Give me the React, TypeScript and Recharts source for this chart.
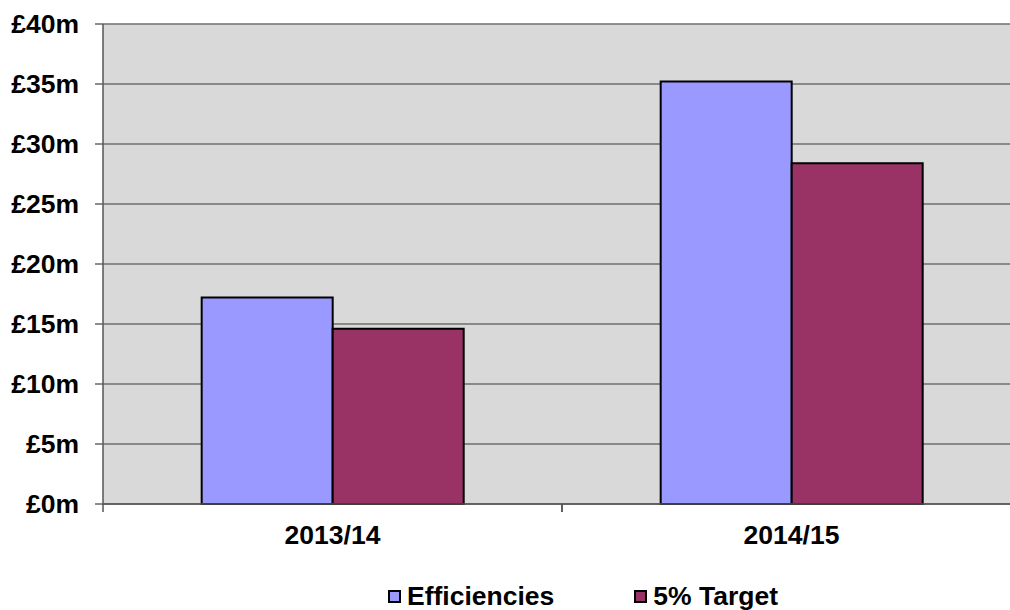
import { BarChart, Bar, XAxis, YAxis, CartesianGrid, Legend } from 'recharts';

const years = ['2013/14', '2014/15'];
const efficiencies = [17.2, 35.2];
const target = [14.6, 28.4];
const yTicks = [0, 5, 10, 15, 20, 25, 30, 35, 40];
const seriesOrder = ['efficiencies', 'target'];

const data = years.map((year, i) => ({ year, efficiencies: efficiencies[i], target: target[i] }));

const FONT = '"Liberation Sans", Arial, sans-serif';
const FONT_SIZE = 26.5;
const X_TICK_SIZE = 8;
const X_TICK_MARGIN = 13;

// category label plus the small boundary marks Excel draws between categories
function CategoryTick(props: any) {
  const { x, y, payload } = props;
  const axisY = y - X_TICK_SIZE - X_TICK_MARGIN;
  const half = payload?.offset ?? 0;
  return (
    <g>
      <line x1={x - half} x2={x - half} y1={axisY} y2={axisY + X_TICK_SIZE} stroke="#555" strokeWidth={1.5} />
      <line x1={x + half} x2={x + half} y1={axisY} y2={axisY + X_TICK_SIZE} stroke="#555" strokeWidth={1.5} />
      <text x={x} y={y} dy="0.71em" textAnchor="middle" fontFamily={FONT} fontWeight="bold" fontSize={FONT_SIZE} fill="#000">
        {payload.value}
      </text>
    </g>
  );
}

function LegendContent({ payload }: any) {
  const items = [...(payload || [])].sort(
    (a: any, b: any) => seriesOrder.indexOf(a.dataKey) - seriesOrder.indexOf(b.dataKey)
  );
  return (
    <div
      style={{
        height: 46,
        boxSizing: 'border-box',
        paddingTop: 18,
        paddingLeft: 388,
        display: 'flex',
        fontFamily: FONT,
        fontWeight: 'bold',
        fontSize: FONT_SIZE,
        lineHeight: '26px',
        color: '#000',
      }}
    >
      {items.map((p: any) => (
        <span key={p.value} style={{ display: 'flex', alignItems: 'center', marginRight: 80 }}>
          <span style={{ width: 9, height: 9, border: '2px solid #000', background: p.color, marginRight: 6 }} />
          {p.value}
        </span>
      ))}
    </div>
  );
}

export default function App() {
  return (
    <div style={{ position: 'fixed', left: 0, top: 0, width: 1010, height: 610, overflow: 'hidden', background: '#fff' }}>
      <BarChart
        width={1030}
        height={610}
        data={data}
        margin={{ top: 24, right: 9, bottom: 0, left: 0 }}
        barCategoryGap="21.5%"
        barGap={0}
      >
        <CartesianGrid vertical={false} fill="#d9d9d9" stroke="#6e6e6e" strokeWidth={1.5} />
        <XAxis
          dataKey="year"
          height={60}
          axisLine={{ stroke: '#555', strokeWidth: 1.5 }}
          tickLine={false}
          tickSize={X_TICK_SIZE}
          tickMargin={X_TICK_MARGIN}
          tick={<CategoryTick />}
          interval={0}
        />
        <YAxis
          width={103}
          domain={[0, 40]}
          ticks={yTicks}
          interval={0}
          tickFormatter={(v) => `£${v}m`}
          tickSize={8}
          tickMargin={16}
          axisLine={{ stroke: '#555', strokeWidth: 1.5 }}
          tickLine={{ stroke: '#666', strokeWidth: 1.5 }}
          tick={{ fill: '#000', fontSize: FONT_SIZE, fontWeight: 'bold', fontFamily: FONT }}
        />
        <Legend verticalAlign="bottom" content={<LegendContent />} />
        <Bar dataKey="efficiencies" name="Efficiencies" fill="#9999ff" stroke="#000" strokeWidth={2} isAnimationActive={false} />
        <Bar dataKey="target" name="5% Target" fill="#993366" stroke="#000" strokeWidth={2} isAnimationActive={false} />
      </BarChart>
    </div>
  );
}
